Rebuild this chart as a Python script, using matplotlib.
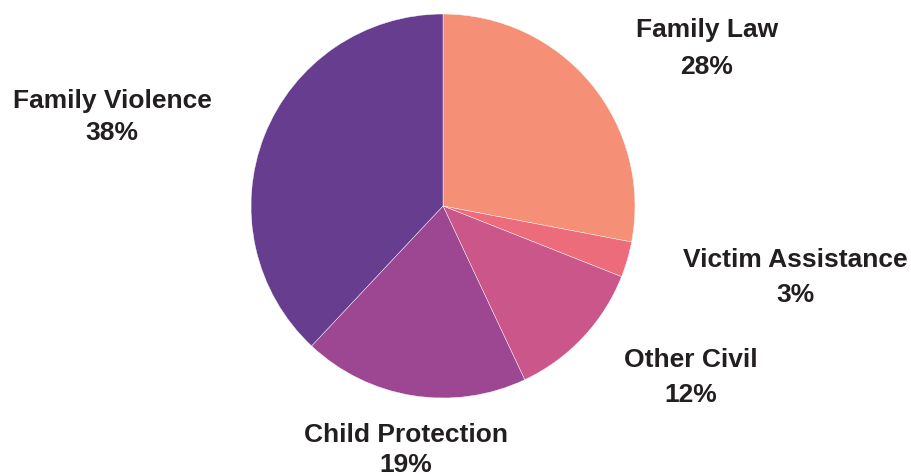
import matplotlib.pyplot as plt

categories = ["Family Law", "Victim Assistance", "Other Civil", "Child Protection", "Family Violence"]
shares = [28, 3, 12, 19, 38]
colors = ["#F59076", "#EC6C7B", "#CA568A", "#9D4792", "#673D8F"]

# label layout in pixels: centre x, baseline of name, baseline of percent
label_x = [707, 795, 691, 406, 112]
name_base = [37, 267, 367, 442, 108]
pct_base = [74, 302, 402, 472, 140]

W, H = 912, 477
fig = plt.figure(figsize=(W / 100, H / 100), dpi=100)
cx, cy, r = 443, 207, 192
ax = fig.add_axes([(cx - r) / W, (H - cy - r) / H, 2 * r / W, 2 * r / H])
ax.pie(shares, colors=colors, startangle=90, counterclock=False, radius=1,
       wedgeprops=dict(edgecolor="white", linewidth=0.3))
ax.set_xlim(-1, 1)
ax.set_ylim(-1, 1)
ax.set_aspect("equal")
ax.axis("off")

style = dict(ha="center", va="baseline", fontsize=19, fontweight="bold",
             family="Liberation Sans", color="#231F20")
for name, val, px, nb, pb in zip(categories, shares, label_x, name_base, pct_base):
    fig.text(px / W, 1 - nb / H, name, **style)
    fig.text(px / W, 1 - pb / H, f"{val}%", **style)

fig.savefig("out.png", dpi=100)
